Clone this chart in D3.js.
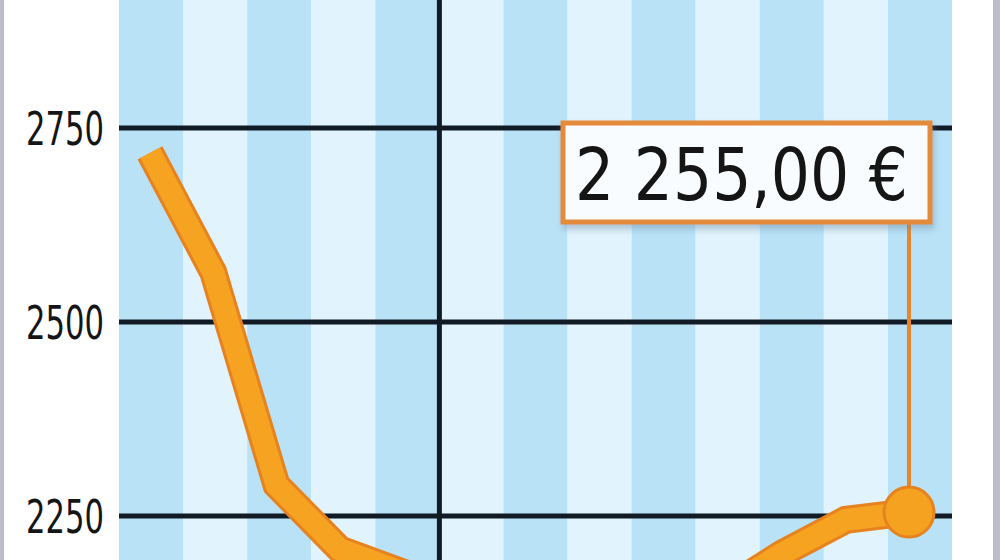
<!DOCTYPE html>
<html>
<head>
<meta charset="utf-8">
<script src="https://cdn.jsdelivr.net/npm/d3@7"></script>
<style>
  html, body { margin: 0; padding: 0; background: #ffffff; }
  svg { display: block; }
</style>
</head>
<body>
<svg id="chart" width="1000" height="560"></svg>
<script>
// data
const periods = [0, 1, 2, 3, 4, 5, 6, 7, 8, 9, 10, 11, 12];
const prices = [2718, 2564, 2290, 2207, 2177, 2150, 2135, 2125, 2130, 2150, 2202, 2245, 2255];
const stripes = ["s1", "s2", "s3", "s4", "s5", "s6", "s7", "s8", "s9", "s10", "s11", "s12", "s13"];
const yTicks = [2250, 2500, 2750];
const yTickLabels = ["2250", "2500", "2750"];
const lastLabel = "2 255,00 €";

const svg = d3.select("#chart");

// scales
const xBand = d3.scaleBand().domain(stripes).range([119, 952]);
const x = d3.scaleLinear().domain([0, 12]).range([150, 909]);
const y = d3.scaleLinear().domain([2250, 2750]).range([516, 128]);

const defs = svg.append("defs");
const shadow = defs.append("filter")
  .attr("id", "shadow")
  .attr("x", "-10%").attr("y", "-20%")
  .attr("width", "130%").attr("height", "150%");
shadow.append("feDropShadow")
  .attr("dx", 2).attr("dy", 5)
  .attr("stdDeviation", 3)
  .attr("flood-color", "#6f8ea3")
  .attr("flood-opacity", 0.45);

// grey frame at both sides
svg.append("rect").attr("x", 0).attr("y", 0).attr("width", 4).attr("height", 560).attr("fill", "#bdbccb");
svg.append("rect").attr("x", 993).attr("y", 0).attr("width", 7).attr("height", 560).attr("fill", "#bdbccb");

// alternating blue stripes
svg.append("g")
  .selectAll("rect")
  .data(stripes)
  .enter()
  .append("rect")
  .attr("x", d => xBand(d))
  .attr("y", 0)
  .attr("width", xBand.bandwidth())
  .attr("height", 560)
  .attr("fill", (d, i) => i % 2 === 0 ? "#b9e2f7" : "#e1f3fc");

// horizontal grid lines
svg.append("g")
  .selectAll("line")
  .data(yTicks)
  .enter()
  .append("line")
  .attr("x1", xBand.range()[0])
  .attr("x2", xBand.range()[1])
  .attr("y1", d => y(d))
  .attr("y2", d => y(d))
  .attr("stroke", "#111b25")
  .attr("stroke-width", 5);

// vertical separator between stripe 5 and 6
svg.append("line")
  .attr("x1", xBand(stripes[5]))
  .attr("x2", xBand(stripes[5]))
  .attr("y1", 0)
  .attr("y2", 560)
  .attr("stroke", "#111b25")
  .attr("stroke-width", 5);

// y tick labels
svg.append("g")
  .selectAll("text")
  .data(yTicks)
  .enter()
  .append("text")
  .attr("x", 104)
  .attr("y", d => y(d) + 17)
  .attr("text-anchor", "end")
  .attr("font-family", "'DejaVu Sans Condensed', 'DejaVu Sans', sans-serif")
  .attr("font-size", 46)
  .attr("textLength", 78)
  .attr("lengthAdjust", "spacingAndGlyphs")
  .attr("fill", "#151515")
  .text((d, i) => yTickLabels[i]);

// price line: darker outline under a lighter core
const line = d3.line()
  .x((d, i) => x(periods[i]))
  .y(d => y(d));

svg.append("path")
  .datum(prices)
  .attr("d", line)
  .attr("fill", "none")
  .attr("stroke", "#e6821f")
  .attr("stroke-width", 28)
  .attr("stroke-linejoin", "miter")
  .attr("stroke-linecap", "butt");

svg.append("path")
  .datum(prices)
  .attr("d", line)
  .attr("fill", "none")
  .attr("stroke", "#f5a320")
  .attr("stroke-width", 22)
  .attr("stroke-linejoin", "miter")
  .attr("stroke-linecap", "butt");

const lastIdx = prices.length - 1;
const lx = x(periods[lastIdx]);
const ly = y(prices[lastIdx]);

// callout box with connector
const box = { x: 563, y: 123, w: 367, h: 99 };

svg.append("line")
  .attr("x1", lx)
  .attr("x2", lx)
  .attr("y1", box.y + box.h)
  .attr("y2", ly)
  .attr("stroke", "#e8852a")
  .attr("stroke-width", 4);

svg.append("circle")
  .attr("cx", lx)
  .attr("cy", ly)
  .attr("r", 25)
  .attr("fill", "#f4a21f")
  .attr("stroke", "#e6821f")
  .attr("stroke-width", 3);

svg.append("rect")
  .attr("x", box.x)
  .attr("y", box.y)
  .attr("width", box.w)
  .attr("height", box.h)
  .attr("fill", "#f8fcfe")
  .attr("stroke", "#e38a3a")
  .attr("stroke-width", 5)
  .attr("filter", "url(#shadow)");

svg.append("text")
  .attr("x", 575)
  .attr("y", 200)
  .attr("font-family", "'DejaVu Sans Condensed', 'DejaVu Sans', sans-serif")
  .attr("font-size", 73)
  .attr("textLength", 333)
  .attr("lengthAdjust", "spacingAndGlyphs")
  .attr("fill", "#151515")
  .text(lastLabel);
</script>
</body>
</html>
